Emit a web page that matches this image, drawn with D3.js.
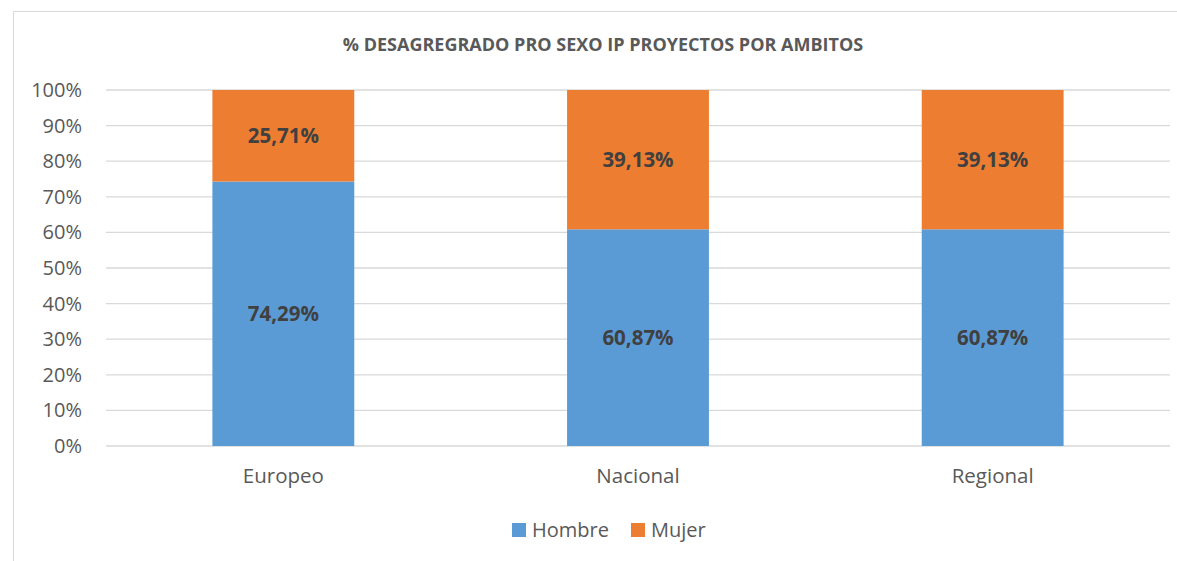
<!DOCTYPE html>
<html>
<head>
<meta charset="utf-8">
<style>
  body { margin: 0; background: #fff; }
  text { font-family: "Open Sans", "Noto Sans", sans-serif; }
</style>
<script src="https://cdn.jsdelivr.net/npm/d3@7"></script>
</head>
<body>
<script>
  // chart data
  const categories = ["Europeo", "Nacional", "Regional"];
  const hombre = [74.29, 60.87, 60.87];
  const mujer = [25.71, 39.13, 39.13];
  const seriesNames = ["Hombre", "Mujer"];
  const yTicks = [0, 10, 20, 30, 40, 50, 60, 70, 80, 90, 100];

  const W = 1177, H = 561;
  const colors = {Hombre: "#5b9bd5", Mujer: "#ed7d31"};
  const plot = {left: 106, right: 1170, top: 90, bottom: 446};

  const svg = d3.select("body").append("svg")
      .attr("width", W)
      .attr("height", H);

  // outer chart frame
  svg.append("rect")
      .attr("x", 13.5).attr("y", 11.5)
      .attr("width", 1200).attr("height", 600)
      .attr("fill", "#fff")
      .attr("stroke", "#d9d9d9");

  const x = d3.scaleBand()
      .domain(categories)
      .range([plot.left, plot.right])
      .paddingInner(0.6)
      .paddingOuter(0.3);

  const y = d3.scaleLinear().domain([0, 100]).range([plot.bottom, plot.top]);

  // gridlines
  svg.append("g")
    .selectAll("line")
    .data(yTicks)
    .enter().append("line")
      .attr("x1", plot.left).attr("x2", plot.right)
      .attr("y1", d => y(d)).attr("y2", d => y(d))
      .attr("stroke", "#d9d9d9")
      .attr("stroke-width", 1.3);

  // y axis labels
  svg.append("g")
    .selectAll("text")
    .data(yTicks)
    .enter().append("text")
      .attr("x", 82)
      .attr("y", d => y(d))
      .attr("dy", "0.35em")
      .attr("text-anchor", "end")
      .attr("fill", "#595959")
      .style("font-size", "20px")
      .text(d => d + "%");

  // stacked bars
  const rows = categories.map((c, i) => ({cat: c, Hombre: hombre[i], Mujer: mujer[i]}));
  const stacked = d3.stack().keys(seriesNames)(rows);

  const layers = svg.append("g").selectAll("g")
    .data(stacked)
    .enter().append("g")
      .attr("fill", d => colors[d.key]);

  layers.selectAll("rect")
    .data(d => d)
    .enter().append("rect")
      .attr("x", d => x(d.data.cat))
      .attr("y", d => y(d[1]))
      .attr("width", x.bandwidth())
      .attr("height", d => y(d[0]) - y(d[1]));

  // data labels
  layers.selectAll("text")
    .data(d => d)
    .enter().append("text")
      .attr("x", d => x(d.data.cat) + x.bandwidth() / 2)
      .attr("y", d => y((d[0] + d[1]) / 2))
      .attr("dy", "0.35em")
      .attr("text-anchor", "middle")
      .attr("fill", "#404040")
      .style("font-size", "20.5px")
      .style("font-weight", "bold")
      .text(d => (d[1] - d[0]).toFixed(2).replace(".", ",") + "%");

  // category labels
  svg.append("g")
    .selectAll("text")
    .data(categories)
    .enter().append("text")
      .attr("x", d => x(d) + x.bandwidth() / 2)
      .attr("y", 476)
      .attr("dy", "0.35em")
      .attr("text-anchor", "middle")
      .attr("fill", "#595959")
      .style("font-size", "20.5px")
      .text(d => d);

  // title
  svg.append("text")
      .attr("x", 603)
      .attr("y", 45)
      .attr("dy", "0.35em")
      .attr("text-anchor", "middle")
      .attr("fill", "#595959")
      .style("font-size", "18px")
      .style("font-weight", "bold")
      .text("% DESAGREGRADO PRO SEXO IP PROYECTOS POR AMBITOS");

  // legend
  const legendX = [512, 631];
  const legend = svg.append("g").selectAll("g")
    .data(seriesNames)
    .enter().append("g")
      .attr("transform", (d, i) => "translate(" + legendX[i] + ",530)");
  legend.append("rect")
      .attr("x", 0).attr("y", -7)
      .attr("width", 14).attr("height", 14)
      .attr("fill", d => colors[d]);
  legend.append("text")
      .attr("x", 20)
      .attr("dy", "0.35em")
      .attr("fill", "#595959")
      .style("font-size", "20px")
      .text(d => d);
</script>
</body>
</html>
